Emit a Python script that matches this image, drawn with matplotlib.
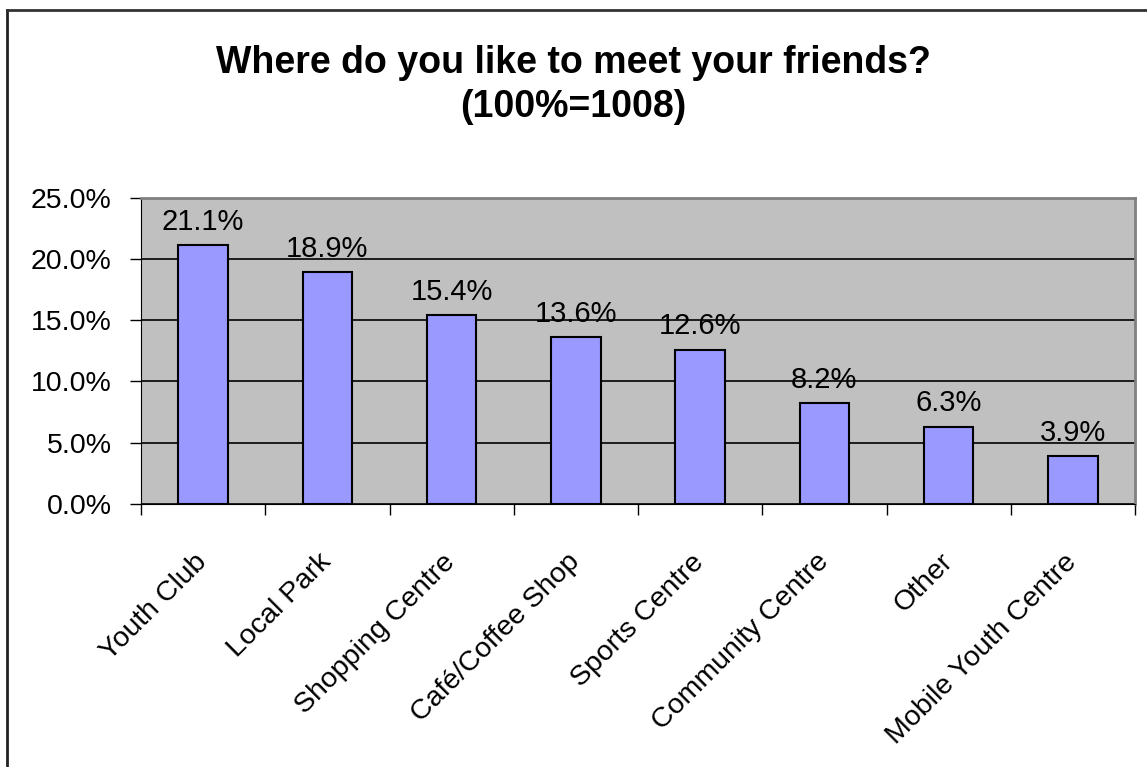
import numpy as np
import matplotlib
matplotlib.use("Agg")
import matplotlib.pyplot as plt
from matplotlib.lines import Line2D

categories = ["Youth Club", "Local Park", "Shopping Centre", "Café/Coffee Shop",
              "Sports Centre", "Community Centre", "Other", "Mobile Youth Centre"]
values = [21.1, 18.9, 15.4, 13.6, 12.6, 8.2, 6.3, 3.9]
yticks = [0, 5, 10, 15, 20, 25]

plt.rcParams["font.family"] = ["Liberation Sans", "DejaVu Sans"]

fig = plt.figure(figsize=(11.47, 7.67), dpi=100)
ax = fig.add_axes([141 / 1147, 263 / 767, 994 / 1147, 306.5 / 767])

x = np.arange(len(categories))
ax.set_facecolor("#C0C0C0")
ax.bar(x, values, width=0.4, color="#9999FF", edgecolor="black", linewidth=1.5, zorder=3)

for xi, v in zip(x, values):
    ax.annotate(f"{v:.1f}%", (xi, v), xytext=(0, 11), textcoords="offset points",
                ha="center", va="baseline", fontsize=21)

ax.set_xlim(-0.5, len(categories) - 0.5)
ax.set_ylim(0, 25)
ax.set_yticks(yticks)
ax.set_yticklabels([f"{t:.1f}%" for t in yticks], fontsize=20.5)
ax.yaxis.grid(True, color="black", linewidth=1.2, zorder=1)

ax.set_xticks(x)
ax.set_xticklabels(categories, fontsize=20.5, rotation=45, ha="right", va="center",
                   rotation_mode="anchor")
ax.set_xticks(np.arange(len(categories) + 1) - 0.5, minor=True)
ax.tick_params(axis="x", which="major", length=0, pad=39)
ax.tick_params(axis="x", which="minor", length=8, width=1, direction="out")
ax.tick_params(axis="y", length=8, width=1, pad=13)

for side in ["top", "right"]:
    ax.spines[side].set_color("#808080")
    ax.spines[side].set_linewidth(2)
ax.spines["left"].set_color("black")
ax.spines["bottom"].set_color("black")

fig.text(0.5, 1 - 73 / 767, "Where do you like to meet your friends?",
         ha="center", va="baseline", fontsize=27, fontweight="bold")
fig.text(0.5, 1 - 117 / 767, "(100%=1008)",
         ha="center", va="baseline", fontsize=27, fontweight="bold")

# figure border (top and left)
fig.add_artist(Line2D([6.5 / 1147, 6.5 / 1147], [0, 1 - 9.5 / 767], transform=fig.transFigure,
                      color="#222222", linewidth=2))
fig.add_artist(Line2D([6.5 / 1147, 1146 / 1147], [1 - 9.5 / 767, 1 - 9.5 / 767],
                      transform=fig.transFigure, color="#333333", linewidth=2))

fig.savefig("out.png", dpi=100)
